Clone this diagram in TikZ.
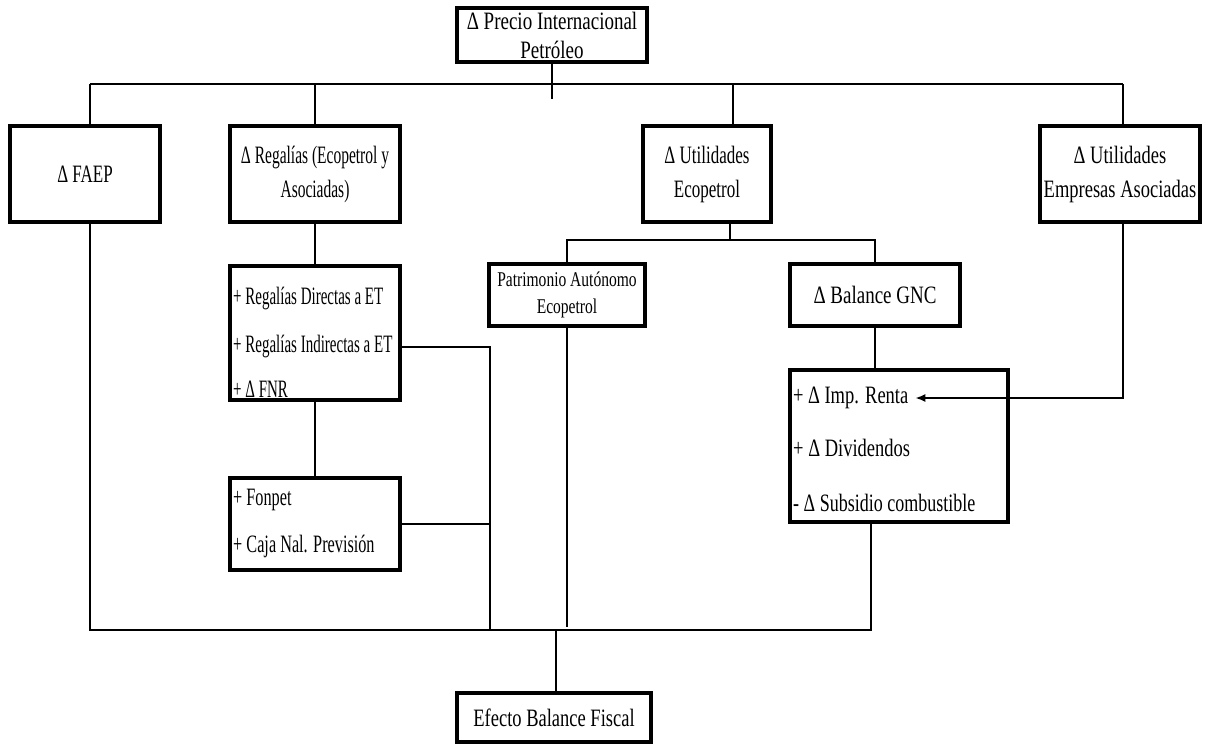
\documentclass[tikz,border=0pt]{standalone}
\usepackage{fontspec}
\setmainfont[FakeStretch=0.74]{Liberation Serif}
\newfontfamily\fsA[FakeStretch=0.60]{Liberation Serif}
\newfontfamily\fsB[FakeStretch=0.65]{Liberation Serif}
\newfontfamily\fsE[FakeStretch=0.62]{Liberation Serif}
\newfontfamily\fsC[FakeStretch=0.68]{Liberation Serif}
\newfontfamily\fsF[FakeStretch=0.72]{Liberation Serif}
\newfontfamily\fsD[FakeStretch=0.76]{Liberation Serif}
\usetikzlibrary{arrows.meta}
\begin{document}
\begin{tikzpicture}[x=1pt,y=-1pt,
  box/.style={draw, line width=3.4pt, inner sep=0pt, align=center, anchor=center},
  item/.style={anchor=west, inner sep=0pt},
  conn/.style={line width=1.8pt},
  wide/.style={font={\fontsize{25}{34}\selectfont}}]
\fontsize{25}{29}\selectfont
\useasboundingbox (0,0) rectangle (1210,747);
% boxes
\node[box, font={\fsD\fontsize{25}{29}\selectfont}, minimum width=190pt, minimum height=54pt] (top) at (552,35) {Δ Precio Internacional\\Petróleo};
\node[box, font={\fsC\fontsize{25}{29}\selectfont}, minimum width=150pt, minimum height=96pt] (faep) at (85,174) {Δ FAEP};
\node[box, font={\fsE\fontsize{25}{34}\selectfont}, minimum width=170pt, minimum height=96pt] (reg) at (315,174) {Δ Regalías (Ecopetrol y\\Asociadas)};
\node[box, font={\fsC\fontsize{25}{34}\selectfont}, minimum width=128pt, minimum height=96pt] (uecop) at (707,174) {Δ Utilidades\\Ecopetrol};
\node[box, wide, minimum width=160pt, minimum height=96pt] (uemp) at (1120,174) {Δ Utilidades\\Empresas Asociadas};
\node[box, font={\fontsize{21}{27}\selectfont}, minimum width=156pt, minimum height=62pt] (patr) at (567,295) {Patrimonio Autónomo\\Ecopetrol};
\node[box, font={\fsD\fontsize{25}{29}\selectfont}, minimum width=170pt, minimum height=62pt] (gnc) at (875,295) {Δ Balance GNC};
\node[box, minimum width=170pt, minimum height=134pt] (regitems) at (315,333) {};
\node[box, minimum width=170pt, minimum height=92pt] (fonpet) at (315,524) {};
\node[box, minimum width=218pt, minimum height=152pt] (gncitems) at (899,446) {};
\node[box, minimum width=194pt, minimum height=49pt] (efecto) at (554,717.5) {Efecto Balance Fiscal};
% item texts
\node[item, font={\fsA\fontsize{25}{29}\selectfont}] (r1) at (233,299) {+ Regalías Directas a ET};
\node[item, font={\fsA\fontsize{25}{29}\selectfont}] (r2) at (233,347) {+ Regalías Indirectas a ET};
\node[item, font={\fsA\fontsize{25}{29}\selectfont}] (r3) at (233,389) {+ Δ FNR};
\node[item, font={\fsB\fontsize{25}{29}\selectfont}] (f1) at (233,500) {+ Fonpet};
\node[item, font={\fsB\fontsize{25}{29}\selectfont}] (f2) at (233,546) {+ Caja Nal. Previsión};
\node[item, outer xsep=7pt] (renta) at (786,398) {+ Δ Imp. Renta};
\node[item] (g2) at (793,448) {+ Δ Dividendos};
\node[item, font={\fsF\fontsize{25}{29}\selectfont}] (g3) at (793,503) {- Δ Subsidio combustible};
% top bus
\coordinate (tl) at (90,84);
\coordinate (tr) at (1123,84);
\coordinate (tu) at (733,84);
\draw[conn] (top.south) -- ++(0,35);
\draw[conn] (tl) -- (tr);
\draw[conn] (tl) -- (tl |- faep.north);
\draw[conn] (reg.north |- tl) -- (reg.north);
\draw[conn] (tu) -- (tu |- uecop.north);
\draw[conn] (tr) -- (tr |- uemp.north);
% Ecopetrol branch
\coordinate (eb) at (730,240);
\draw[conn] (eb |- uecop.south) -- (eb);
\draw[conn] (patr.north) -- (patr.north |- eb) -- (gnc.north |- eb) -- (gnc.north);
\draw[conn] (gnc.south) -- (gnc.south |- gncitems.north);
% Regalias branch
\draw[conn] (reg.south) -- (regitems.north);
\draw[conn] (regitems.south) -- (fonpet.north);
\coordinate (bx) at (490,630);
\draw[conn] (regitems.east |- r2) -- (r2 -| bx) -- (bx);
\draw[conn] (fonpet.east) -- (fonpet.east -| bx);
% arrow from Empresas Asociadas
\draw[conn, -{Latex[length=10pt,width=8pt]}] (tr |- uemp.south) |- (renta.east);
% bottom bus
\coordinate (bl) at (90,630);
\coordinate (br) at (871,630);
\coordinate (bm) at (556,630);
\draw[conn] (faep.south -| bl) -- (bl) -- (br) -- (br |- gncitems.south);
\draw[conn] (patr.south) -- ++(0,299);
\draw[conn] (bm) -- (bm |- efecto.north);
\end{tikzpicture}
\end{document}
